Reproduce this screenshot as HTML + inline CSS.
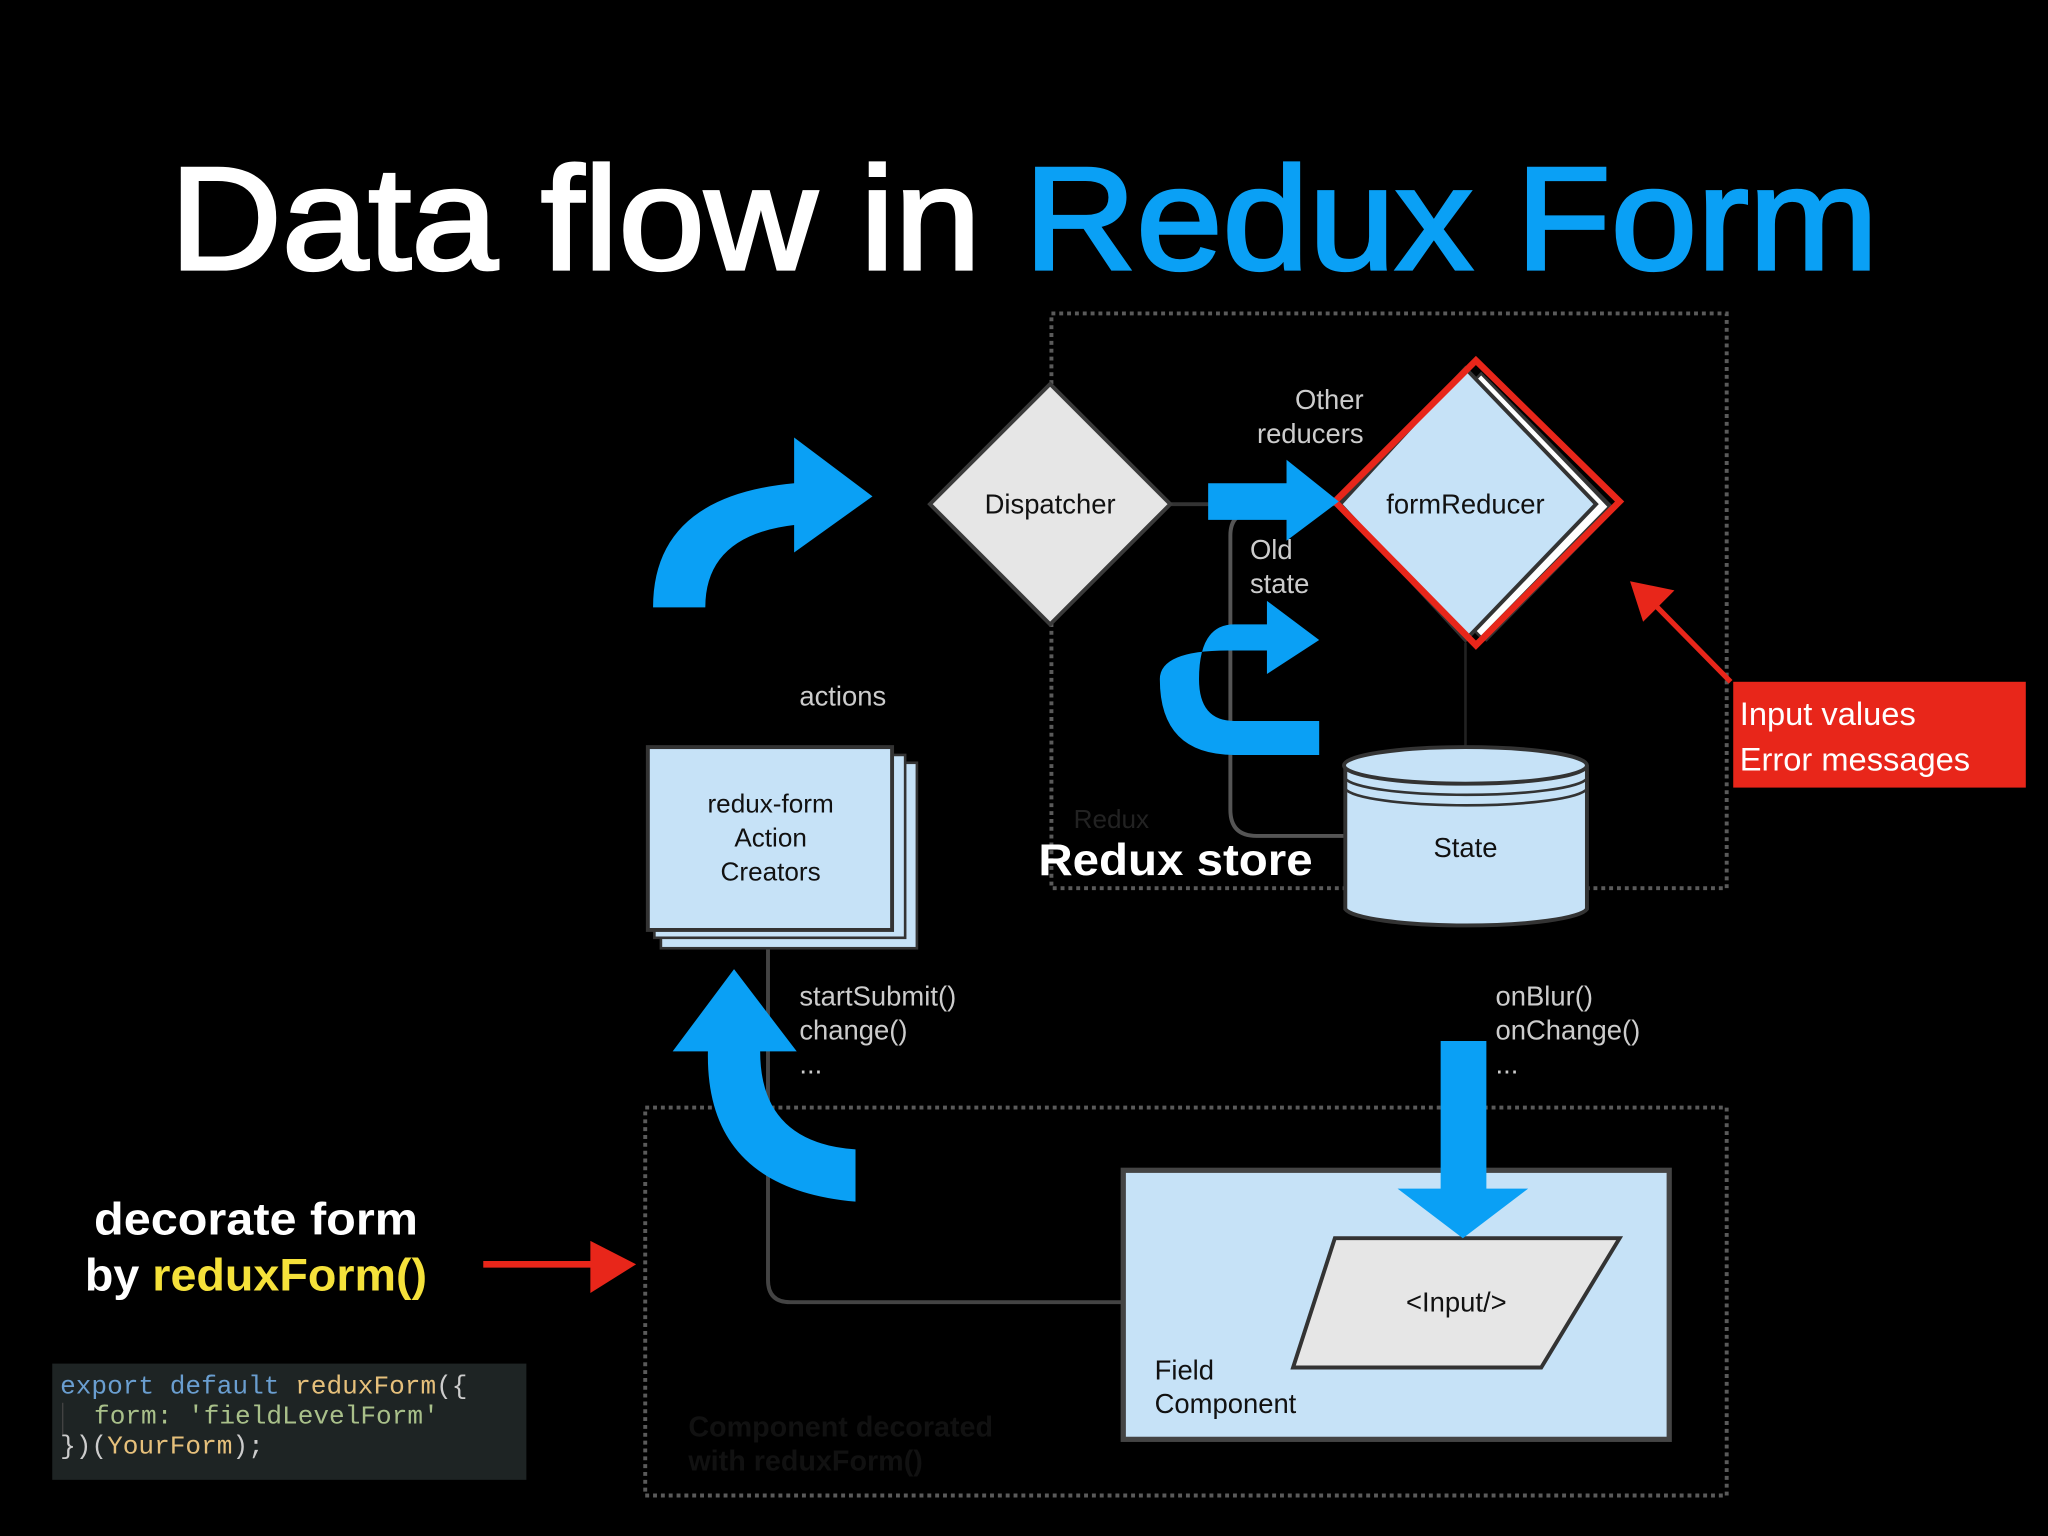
<!DOCTYPE html>
<html><head><meta charset="utf-8"><style>
html,body{margin:0;padding:0;background:#000;width:2048px;height:1536px;overflow:hidden}
svg{display:block}
.s{font-family:"Liberation Sans",sans-serif}
.m{font-family:"Liberation Mono",monospace}
</style></head><body>
<svg width="2048" height="1536" viewBox="0 0 1568 1176" xmlns="http://www.w3.org/2000/svg">
<rect width="1568" height="1176" fill="#000"/>
<g class="s">
<text x="130" y="206" font-size="112" fill="#fff" stroke="#fff" stroke-width="2.5" textLength="1308" lengthAdjust="spacingAndGlyphs">Data flow in <tspan fill="#0aa0f5" stroke="#0aa0f5">Redux Form</tspan></text>

<rect x="805" y="240" width="517" height="440" fill="none" stroke="#5a5a5a" stroke-width="3" stroke-dasharray="3,3"/>
<rect x="494" y="848" width="828" height="297" fill="none" stroke="#5a5a5a" stroke-width="3" stroke-dasharray="3,3"/>

<path d="M896 386 H1022" stroke="#333" stroke-width="3"/>
<path d="M960 392 Q942 392 942 410 V620 Q942 640 962 640 H1030" stroke="#555" stroke-width="3" fill="none"/>
<path d="M1122 492 V572" stroke="#222" stroke-width="2"/>
<path d="M588 720 V980 Q588 997 605 997 H1022" stroke="#444" stroke-width="3" fill="none"/>

<polygon points="804,294 896,386 804,478 712,386" fill="#e6e6e6" stroke="#3a3a3a" stroke-width="3"/>
<text x="804" y="393" font-size="21" text-anchor="middle" fill="#111">Dispatcher</text>

<polygon points="1138,290 1236,390 1138,490 1040,390" fill="#fff" stroke="#333" stroke-width="2"/>
<polygon points="1134,286 1232,388 1134,488 1036,388" fill="#fff" stroke="#333" stroke-width="2"/>
<polygon points="1122,282 1222,386 1122,490 1026,386" fill="#c6e2f7" stroke="#333" stroke-width="3"/>
<polygon points="1130,276 1240,384 1130,494 1022,384" fill="none" stroke="#e8261a" stroke-width="5"/>
<text x="1122" y="393" font-size="21" text-anchor="middle" fill="#111">formReducer</text>
<text x="1044" y="313" font-size="21" text-anchor="end" fill="#ccc">Other</text>
<text x="1044" y="339" font-size="21" text-anchor="end" fill="#ccc">reducers</text>
<text x="957" y="428" font-size="21" fill="#ccc">Old</text>
<text x="957" y="454" font-size="21" fill="#ccc">state</text>

<path d="M925 370 H985 V352 L1025 384 L985 414 V398 H925Z" fill="#0aa0f5"/>
<path d="M1010 552 V578 H945 Q888 578 888 520 Q888 498 940 498 H970 V516 L1010 490 L970 460 V478 H945 Q918 478 918 520 Q918 552 945 552Z" fill="#0aa0f5"/>

<path d="M500 465 Q500 380 608 370 V335 L668 380 L608 423 V402 Q540 410 540 465Z" fill="#0aa0f5"/>
<text x="612" y="540" font-size="21" fill="#ccc">actions</text>

<rect x="506" y="584" width="196" height="142" fill="#c6e2f7" stroke="#333" stroke-width="2"/>
<rect x="501" y="578" width="192" height="140" fill="#c6e2f7" stroke="#333" stroke-width="2"/>
<rect x="496" y="572" width="187" height="140" fill="#c6e2f7" stroke="#333" stroke-width="3"/>
<text x="590" y="622" font-size="20" text-anchor="middle" fill="#111">redux-form</text>
<text x="590" y="648" font-size="20" text-anchor="middle" fill="#111">Action</text>
<text x="590" y="674" font-size="20" text-anchor="middle" fill="#111">Creators</text>

<path d="M655 920 Q540 910 542 805 H515 L562 742 L610 805 H582 Q582 875 655 880Z" fill="#0aa0f5"/>
<text x="612" y="770" font-size="21" fill="#ccc">startSubmit()</text>
<text x="612" y="796" font-size="21" fill="#ccc">change()</text>
<text x="612" y="822" font-size="21" fill="#ccc">...</text>
<text x="1145" y="770" font-size="21" fill="#ccc">onBlur()</text>
<text x="1145" y="796" font-size="21" fill="#ccc">onChange()</text>
<text x="1145" y="822" font-size="21" fill="#ccc">...</text>

<path d="M1030 586 V696 A93 14 0 0 0 1215 696 V586" fill="#c6e2f7" stroke="#333" stroke-width="3"/>
<ellipse cx="1122" cy="586" rx="93" ry="14" fill="#c6e2f7" stroke="#333" stroke-width="3"/>
<path d="M1030 596 A93 14 0 0 0 1215 596 M1030 604 A93 14 0 0 0 1215 604" fill="none" stroke="#333" stroke-width="2"/>
<text x="1122" y="656" font-size="21" text-anchor="middle" fill="#111">State</text>
<text x="822" y="634" font-size="20" fill="#222">Redux</text>
<text x="795" y="670" font-size="34" font-weight="bold" fill="#fff" textLength="210" lengthAdjust="spacingAndGlyphs">Redux store</text>

<rect x="1327" y="522" width="224" height="81" fill="#e8261a"/>
<text x="1332" y="555" font-size="25" fill="#fff">Input values</text>
<text x="1332" y="590" font-size="25" fill="#fff">Error messages</text>
<path d="M1325 522 L1266 462" stroke="#e8261a" stroke-width="4"/>
<path d="M1248 445 L1282 452 L1258 476Z" fill="#e8261a"/>

<rect x="860" y="896" width="418" height="206" fill="#c6e2f7" stroke="#444" stroke-width="4"/>
<polygon points="1022,948 1240,948 1180,1047 990,1047" fill="#e6e6e6" stroke="#333" stroke-width="3"/>
<text x="1115" y="1004" font-size="21" text-anchor="middle" fill="#111">&lt;Input/&gt;</text>
<text x="884" y="1056" font-size="21" fill="#111">Field</text>
<text x="884" y="1082" font-size="21" fill="#111">Component</text>
<path d="M1103 797 H1138 V910 H1170 L1120 948 L1070 910 H1103Z" fill="#0aa0f5"/>
<text x="527" y="1100" font-size="22" font-weight="bold" fill="#111">Component decorated</text>
<text x="527" y="1126" font-size="22" font-weight="bold" fill="#111">with reduxForm()</text>

<text x="196" y="945" font-size="35" font-weight="bold" text-anchor="middle" fill="#fff" textLength="248" lengthAdjust="spacingAndGlyphs">decorate form</text>
<text x="196" y="988" font-size="35" font-weight="bold" text-anchor="middle" fill="#fff" textLength="262" lengthAdjust="spacingAndGlyphs">by <tspan fill="#f5e13a">reduxForm()</tspan></text>
<path d="M370 968 H455" stroke="#e8261a" stroke-width="5"/>
<path d="M452 950 L487 968 L452 990Z" fill="#e8261a"/>
</g>

<rect x="40" y="1044" width="363" height="89" fill="#1e2424"/>
<g class="m" font-size="20">
<text x="46" y="1067"><tspan fill="#6a9ed0">export default </tspan><tspan fill="#e6c07b">reduxForm</tspan><tspan fill="#ccc">({</tspan></text>
<text x="72" y="1090" fill="#a9c08a">form: 'fieldLevelForm'</text>
<text x="46" y="1113"><tspan fill="#ccc">})(</tspan><tspan fill="#e6c07b">YourForm</tspan><tspan fill="#ccc">);</tspan></text>
</g>
<path d="M48 1074 V1098" stroke="#444" stroke-width="1"/>
</svg>
</body></html>
